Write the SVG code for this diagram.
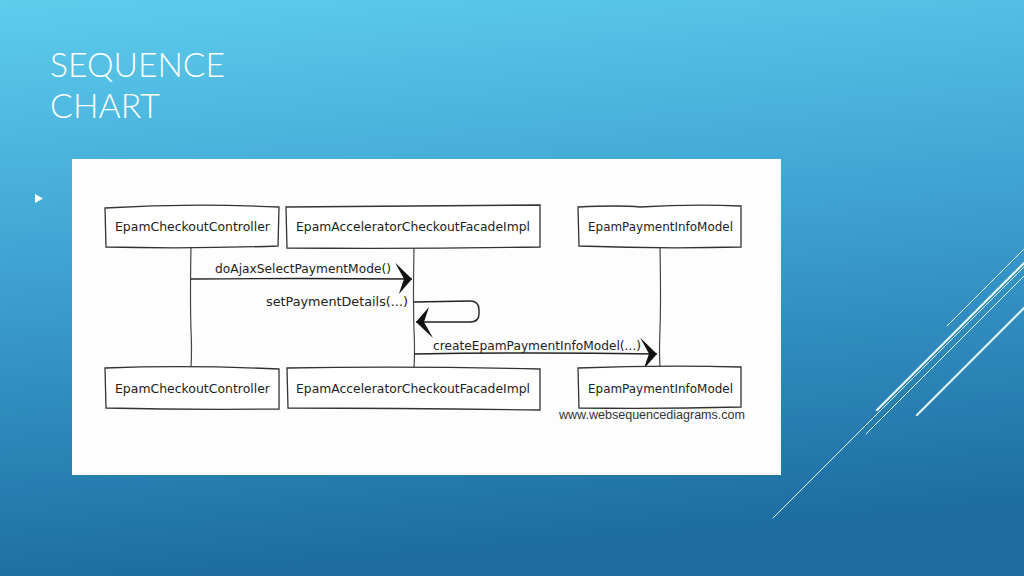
<svg xmlns="http://www.w3.org/2000/svg" width="1024" height="576" viewBox="0 0 1024 576">
<defs>
<linearGradient id="bg" x1="0" y1="0" x2="0.15" y2="1">
<stop offset="0" stop-color="#5dcdec"/>
<stop offset="0.45" stop-color="#3fa3d3"/>
<stop offset="1" stop-color="#1d6da2"/>
</linearGradient>
<marker id="arrow" markerUnits="userSpaceOnUse" markerWidth="22" markerHeight="36" viewBox="-19 -18 22 36" refX="0" refY="0" orient="auto">
<path d="M-17,-16 L0,0 L-13,15 L-8,0 Z" fill="#111"/>
</marker>
</defs>
<style>
.box{fill:#fff;stroke:#333;stroke-width:1.3}
.lbl{font-family:"DejaVu Sans","Liberation Sans",sans-serif;font-size:12px;fill:#222}
.life{fill:none;stroke:#444;stroke-width:1.2}
.msg{fill:none;stroke:#222;stroke-width:1.4}
.deco{stroke:#e6f6fc;stroke-linecap:round}
</style>
<rect width="1024" height="576" fill="url(#bg)"/>
<g id="decor">
<line class="deco" x1="947" y1="326" x2="1024" y2="249" stroke-width="1"/>
<line class="deco" x1="877" y1="410" x2="1024" y2="263" stroke-width="2.2"/>
<line class="deco" x1="866" y1="434" x2="1024" y2="276" stroke-width="1"/>
<line class="deco" x1="773" y1="518" x2="1024" y2="267" stroke-width="1"/>
<line class="deco" x1="917" y1="415" x2="1024" y2="308" stroke-width="2.2"/>
</g>
<g id="title" font-family="Lato,'Open Sans',sans-serif" font-weight="300" fill="#ffffff" font-size="33">
<text x="50" y="77" textLength="175" lengthAdjust="spacingAndGlyphs">SEQUENCE</text>
<text x="50" y="118" textLength="110" lengthAdjust="spacingAndGlyphs">CHART</text>
</g>
<path id="bullet" d="M35,194 L43,198.5 L35,203 Z" fill="#ffffff"/>
<rect id="panel" x="72" y="159" width="709" height="316" fill="#fdfdfd"/>
<g id="connectors">
<path class="life" d="M191,247 Q190,300 191,330 Q192,350 191,368"/>
<path class="life" d="M414,248 Q413,300 414,330 Q415,350 414,368"/>
<path class="life" d="M660,247 Q661,300 660,330 Q659,350 660,368"/>
<path class="msg" d="M191,279 Q300,278 412,279" marker-end="url(#arrow)"/>
<path class="msg" d="M414,302 L470,301 Q479,301 479,310 L479,314 Q479,322 470,322 L416,322" marker-end="url(#arrow)"/>
<path class="msg" d="M414,354 Q530,352 657,354" marker-end="url(#arrow)"/>
<text class="lbl" x="215" y="273" textLength="176" lengthAdjust="spacingAndGlyphs">doAjaxSelectPaymentMode()</text>
<text class="lbl" x="266" y="306" textLength="142" lengthAdjust="spacingAndGlyphs">setPaymentDetails(...)</text>
<text class="lbl" x="433" y="350" textLength="208" lengthAdjust="spacingAndGlyphs">createEpamPaymentInfoModel(...)</text>
</g>
<g id="p1-head">
<path class="box" d="M105,208 Q190,203 279,207 L278,246 Q190,249 106,247 Z"/>
<text class="lbl" x="115" y="231" textLength="155" lengthAdjust="spacingAndGlyphs">EpamCheckoutController</text>
</g>
<g id="p2-head">
<path class="box" d="M286,207 Q410,206 540,205 L540,247 Q410,249 287,248 Z"/>
<text class="lbl" x="296" y="231" textLength="234" lengthAdjust="spacingAndGlyphs">EpamAcceleratorCheckoutFacadeImpl</text>
</g>
<g id="p3-head">
<path class="box" d="M578,207 Q620,205 640,207 Q690,204 741,206 L741,247 Q660,249 579,246 Z"/>
<text class="lbl" x="588" y="231" textLength="145" lengthAdjust="spacingAndGlyphs">EpamPaymentInfoModel</text>
</g>
<g id="p1-foot">
<path class="box" d="M105,368 Q190,365 279,369 L279,409 Q190,410 106,408 Z"/>
<text class="lbl" x="115" y="393" textLength="155" lengthAdjust="spacingAndGlyphs">EpamCheckoutController</text>
</g>
<g id="p2-foot">
<path class="box" d="M287,368 Q410,366 540,369 L540,410 Q410,408 288,408 Z"/>
<text class="lbl" x="296" y="393" textLength="234" lengthAdjust="spacingAndGlyphs">EpamAcceleratorCheckoutFacadeImpl</text>
</g>
<g id="p3-foot">
<path class="box" d="M578,368 Q660,365 741,367 L741,407 Q660,409 579,408 Z"/>
<text class="lbl" x="588" y="393" textLength="145" lengthAdjust="spacingAndGlyphs">EpamPaymentInfoModel</text>
</g>
<text id="credit" x="559" y="419" font-family="'Liberation Sans',Arial,sans-serif" font-size="12.5" fill="#333" textLength="186" lengthAdjust="spacingAndGlyphs">www.websequencediagrams.com</text>
</svg>
